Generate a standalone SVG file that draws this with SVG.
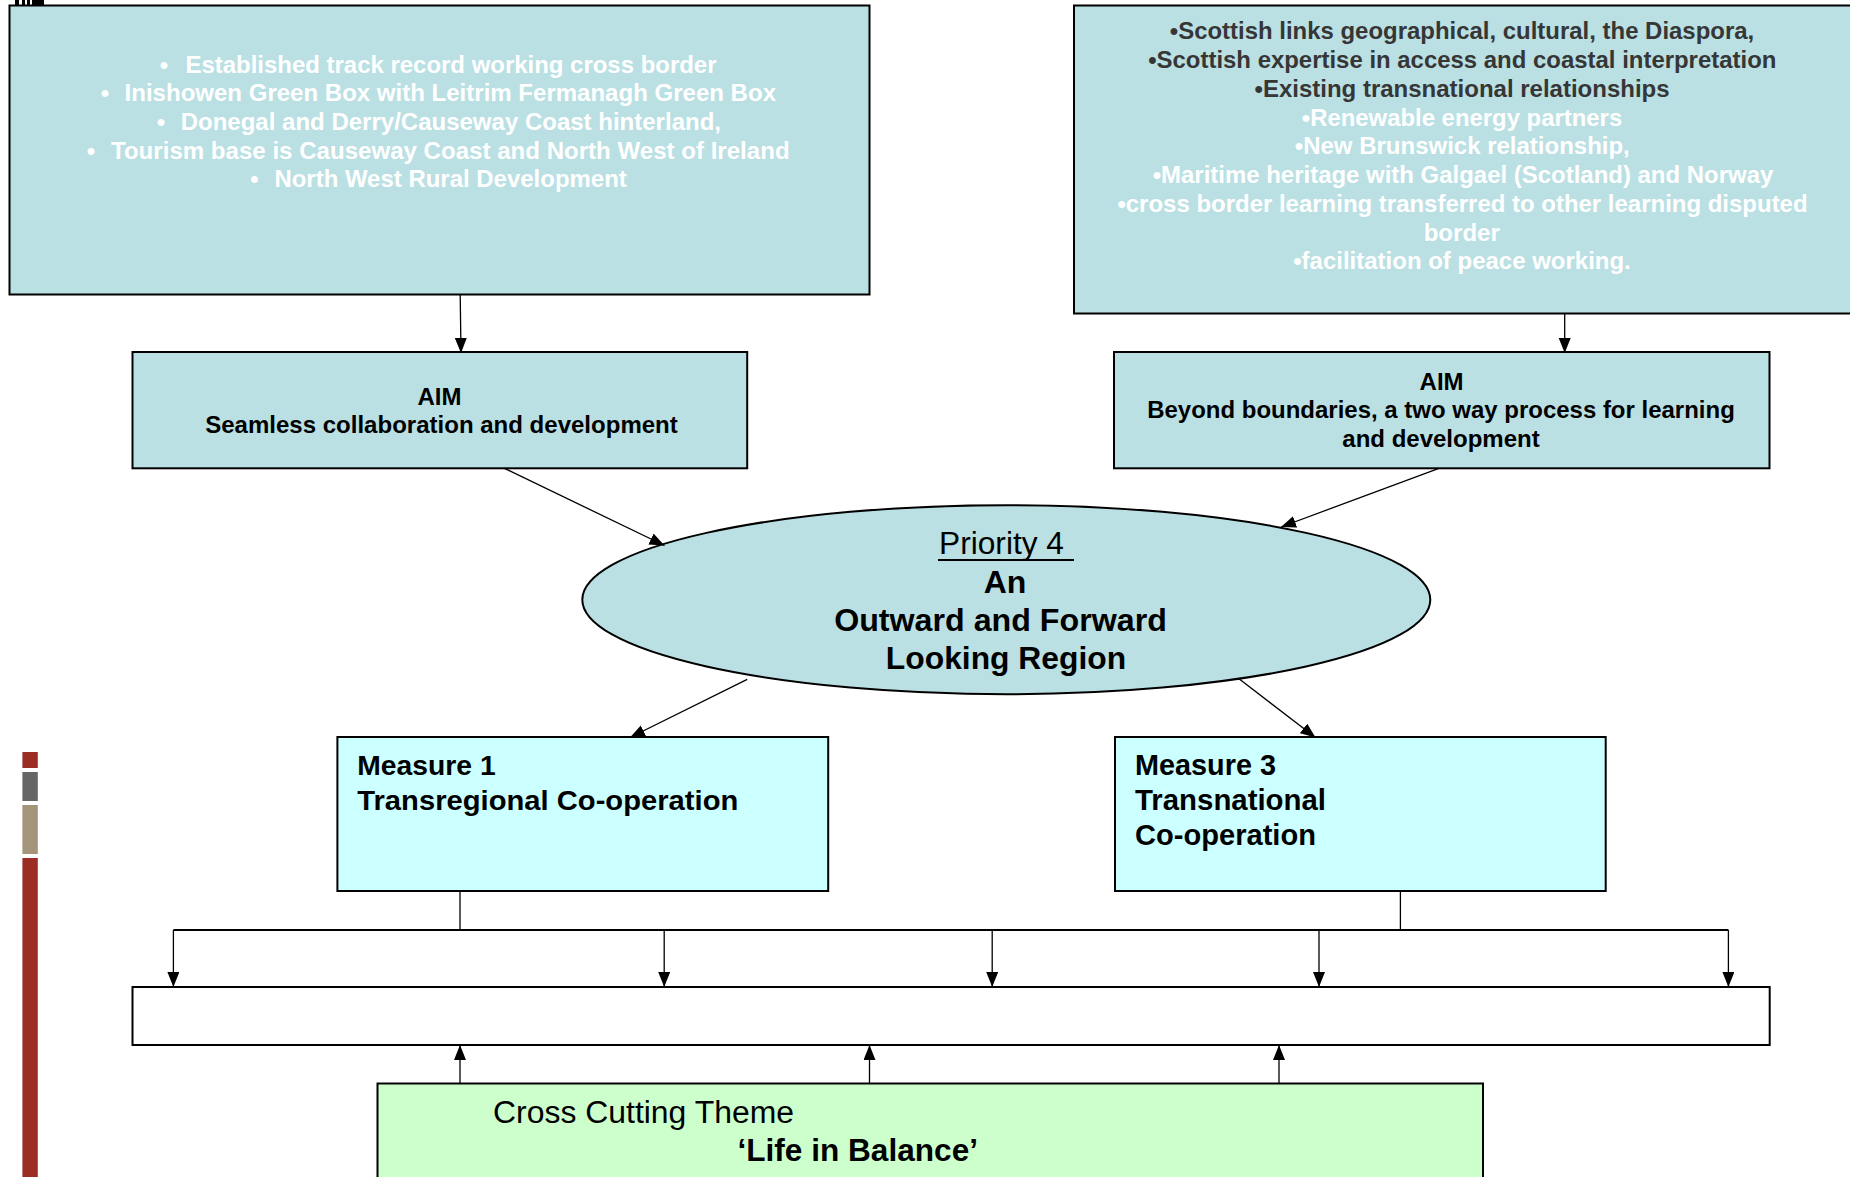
<svg xmlns="http://www.w3.org/2000/svg" width="1850" height="1177" viewBox="0 0 1850 1177">
<style>
.box{stroke:#000;stroke-width:2}
.teal{fill:#BAE0E3}
.t{font-family:"Liberation Sans",Arial,sans-serif}
.b{font-weight:bold}
.w{fill:#FFFFFF}
.dk{fill:#363636}
.k{fill:#000}
.c{stroke:#000;stroke-width:1.3;fill:none}
</style>
<defs>
<marker id="ah" markerUnits="userSpaceOnUse" markerWidth="16" markerHeight="13" refX="15" refY="6" orient="auto">
<path d="M0,0 L15,6 L0,12 z" fill="#000"/>
</marker>
</defs>
<rect width="1850" height="1177" fill="#FFFFFF"/>

<g id="marks">
<rect x="15" y="0" width="4" height="5" fill="#000"/>
<rect x="22" y="0" width="3" height="5" fill="#000"/>
<rect x="27" y="0" width="3" height="5" fill="#000"/>
<rect x="32" y="0" width="12" height="5" fill="#000"/>
</g>

<g id="sidebar">
<rect x="22.4" y="752" width="15.4" height="16" fill="#9C2D25"/>
<rect x="22.4" y="772" width="15.4" height="29" fill="#666666"/>
<rect x="22.4" y="805" width="15.4" height="49" fill="#A3947A"/>
<rect x="22.4" y="858" width="15.4" height="320" fill="#9C2D25"/>
</g>

<g id="strengths-left">
<rect class="box teal" x="9.5" y="5.5" width="860" height="289"/>
<g class="t b w" font-size="24">
<text x="164" y="72.7" text-anchor="middle">•</text>
<text x="185.5" y="72.7" textLength="531" lengthAdjust="spacingAndGlyphs">Established track record working cross border</text>
<text x="105" y="101" text-anchor="middle">•</text>
<text x="124.6" y="101" textLength="651.4" lengthAdjust="spacingAndGlyphs">Inishowen Green Box with Leitrim Fermanagh Green Box</text>
<text x="161" y="130" text-anchor="middle">•</text>
<text x="180.7" y="130" textLength="540.3" lengthAdjust="spacingAndGlyphs">Donegal and Derry/Causeway Coast hinterland,</text>
<text x="91" y="158.7" text-anchor="middle">•</text>
<text x="111" y="158.7" textLength="678.6" lengthAdjust="spacingAndGlyphs">Tourism base is Causeway Coast and North West of Ireland</text>
<text x="254.5" y="187.3" text-anchor="middle">•</text>
<text x="274.4" y="187.3" textLength="352.4" lengthAdjust="spacingAndGlyphs">North West Rural Development</text>
</g>
</g>

<g id="strengths-right">
<rect class="box teal" x="1074" y="5.5" width="790" height="308"/>
<g class="t b" font-size="24">
<text class="dk" x="1169.8" y="39.3" textLength="584.4" lengthAdjust="spacingAndGlyphs">•Scottish links geographical, cultural, the Diaspora,</text>
<text class="dk" x="1148.2" y="68.3" textLength="628.2" lengthAdjust="spacingAndGlyphs">•Scottish expertise in access and coastal interpretation</text>
<text class="dk" x="1254.5" y="97.3" textLength="415.1" lengthAdjust="spacingAndGlyphs">•Existing transnational relationships</text>
<text class="w" x="1301.8" y="125.7" textLength="320.4" lengthAdjust="spacingAndGlyphs">•Renewable energy partners</text>
<text class="w" x="1294.8" y="154.3" textLength="335" lengthAdjust="spacingAndGlyphs">•New Brunswick relationship,</text>
<text class="w" x="1152.7" y="183.3" textLength="620.6" lengthAdjust="spacingAndGlyphs">•Maritime heritage with Galgael (Scotland) and Norway</text>
<text class="w" x="1117.4" y="212" textLength="690.2" lengthAdjust="spacingAndGlyphs">•cross border learning transferred to other learning disputed</text>
<text class="w" x="1423.7" y="240.7" textLength="76.1" lengthAdjust="spacingAndGlyphs">border</text>
<text class="w" x="1293.2" y="269.3" textLength="337.6" lengthAdjust="spacingAndGlyphs">•facilitation of peace working.</text>
</g>
</g>

<g id="aim-left">
<rect class="box teal" x="132.5" y="352" width="614.7" height="116.3"/>
<g class="t b k" font-size="24" text-anchor="middle">
<text x="439.5" y="405">AIM</text>
<text x="441.5" y="433" textLength="472.6" lengthAdjust="spacingAndGlyphs">Seamless collaboration and development</text>
</g>
</g>

<g id="aim-right">
<rect class="box teal" x="1114" y="352" width="655.5" height="116.3"/>
<g class="t b k" font-size="24" text-anchor="middle">
<text x="1441.6" y="389.6">AIM</text>
<text x="1441" y="418.3" textLength="587.6" lengthAdjust="spacingAndGlyphs">Beyond boundaries, a two way process for learning</text>
<text x="1441" y="446.7" textLength="197.3" lengthAdjust="spacingAndGlyphs">and development</text>
</g>
</g>

<g id="priority">
<ellipse class="teal" cx="1006.3" cy="599.7" rx="424" ry="94.5" stroke="#000" stroke-width="2"/>
<text class="t k" x="939" y="554" font-size="31" textLength="125" lengthAdjust="spacingAndGlyphs">Priority 4</text>
<line x1="938" y1="560" x2="1074" y2="560" stroke="#000" stroke-width="2"/>
<g class="t b k" font-size="32" text-anchor="middle">
<text x="1005" y="593">An</text>
<text x="1000.5" y="631" textLength="332.7" lengthAdjust="spacingAndGlyphs">Outward and Forward</text>
<text x="1006" y="669" textLength="240.3" lengthAdjust="spacingAndGlyphs">Looking Region</text>
</g>
</g>

<g id="measure1">
<rect class="box" x="337.4" y="737" width="490.8" height="154" fill="#CCFFFF"/>
<g class="t b k" font-size="28.5">
<text x="357.3" y="774.5" textLength="138.4" lengthAdjust="spacingAndGlyphs">Measure 1</text>
<text x="357.3" y="809.5" textLength="381" lengthAdjust="spacingAndGlyphs">Transregional Co-operation</text>
</g>
</g>

<g id="measure3">
<rect class="box" x="1115" y="737" width="490.7" height="154" fill="#CCFFFF"/>
<g class="t b k" font-size="29">
<text x="1135" y="774.5" textLength="141" lengthAdjust="spacingAndGlyphs">Measure 3</text>
<text x="1135" y="809.5" textLength="191" lengthAdjust="spacingAndGlyphs">Transnational</text>
<text x="1135" y="844.5" textLength="181" lengthAdjust="spacingAndGlyphs">Co-operation</text>
</g>
</g>

<g id="target">
<rect class="box" x="132.5" y="987" width="1637.2" height="58" fill="#FFFFFF"/>
</g>

<g id="crosscutting">
<rect class="box" x="377.5" y="1083.5" width="1105.5" height="110" fill="#CCFFCC"/>
<text class="t k" x="493" y="1123.3" font-size="31" textLength="301" lengthAdjust="spacingAndGlyphs">Cross Cutting Theme</text>
<text class="t b k" x="737.4" y="1161" font-size="31.5" textLength="240.6" lengthAdjust="spacingAndGlyphs">‘Life in Balance’</text>
</g>

<g id="connectors">
<line class="c" x1="460.2" y1="294.7" x2="461" y2="353" marker-end="url(#ah)"/>
<line class="c" x1="1564.7" y1="313.3" x2="1564.7" y2="353" marker-end="url(#ah)"/>
<line class="c" x1="504.4" y1="468.3" x2="664.5" y2="545.5" marker-end="url(#ah)"/>
<line class="c" x1="1438.9" y1="468.3" x2="1281" y2="527" marker-end="url(#ah)"/>
<line class="c" x1="747.2" y1="679.3" x2="630" y2="737.5" marker-end="url(#ah)"/>
<line class="c" x1="1238.3" y1="678.3" x2="1315.5" y2="737.5" marker-end="url(#ah)"/>
<line class="c" x1="460" y1="891" x2="460" y2="930"/>
<line class="c" x1="1400.4" y1="891" x2="1400.4" y2="930"/>
<line x1="173.4" y1="930" x2="1728.4" y2="930" stroke="#000" stroke-width="2"/>
<line class="c" x1="173.4" y1="930" x2="173.4" y2="987" marker-end="url(#ah)"/>
<line class="c" x1="664.2" y1="930" x2="664.2" y2="987" marker-end="url(#ah)"/>
<line class="c" x1="992.2" y1="930" x2="992.2" y2="987" marker-end="url(#ah)"/>
<line class="c" x1="1319" y1="930" x2="1319" y2="987" marker-end="url(#ah)"/>
<line class="c" x1="1728.4" y1="930" x2="1728.4" y2="987" marker-end="url(#ah)"/>
<line class="c" x1="460" y1="1083.3" x2="460" y2="1045" marker-end="url(#ah)"/>
<line class="c" x1="869.5" y1="1083.3" x2="869.5" y2="1045" marker-end="url(#ah)"/>
<line class="c" x1="1279" y1="1083.3" x2="1279" y2="1045" marker-end="url(#ah)"/>
</g>
</svg>
